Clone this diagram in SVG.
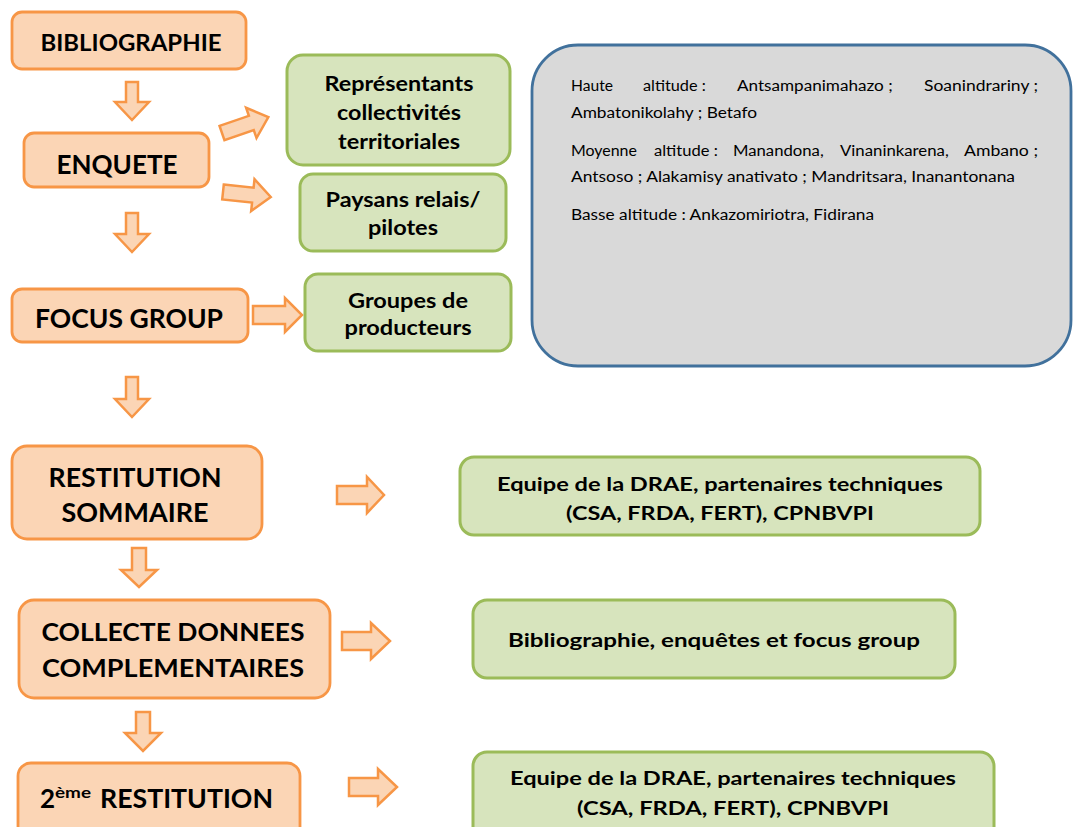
<svg xmlns="http://www.w3.org/2000/svg" width="1073" height="827" viewBox="0 0 1073 827">
<style>
.ob{fill:#FBD5B5;stroke:#F79646;stroke-width:2.8}
.gb{fill:#D7E4BD;stroke:#9BBB59;stroke-width:3}
.zb{fill:#D9D9D9;stroke:#41719C;stroke-width:2.8}
.arr{fill:#FBD5B5;stroke:#F79646;stroke-width:2.5;stroke-linejoin:miter}
.t{font-family:Lato,"Liberation Sans",sans-serif;font-weight:700;fill:#000;text-anchor:middle}
.r{font-family:Lato,"Liberation Sans",sans-serif;font-weight:400;fill:#000;font-size:15.5px}
</style>
<rect width="1073" height="827" fill="#FFFFFF"/>

<g id="connectors">
<polygon class="arr" points="126,82 138,82 138,102 149,102 132,120 115,102 126,102"/>
<polygon class="arr" transform="translate(222,133) rotate(-19)" points="0,-7.5 31,-7.5 31,-16 49,0 31,16 31,7.5 0,7.5"/>
<polygon class="arr" transform="translate(223,192) rotate(6)" points="0,-7.5 30,-7.5 30,-16 48,0 30,16 30,7.5 0,7.5"/>
<polygon class="arr" points="126,213 138,213 138,234 149,234 132,252 115,234 126,234"/>
<polygon class="arr" points="253,306 285,306 285,298 302,315 285,332 285,324 253,324"/>
<polygon class="arr" points="126,377 138,377 138,399 149,399 132,417 115,399 126,399"/>
<polygon class="arr" points="337,486 367,486 367,477 384,495 367,513 367,504 337,504"/>
<polygon class="arr" points="132,548 146,548 146,570 157,570 139,587 121,570 132,570"/>
<polygon class="arr" points="342,632 371,632 371,623 390,641 371,659 371,650 342,650"/>
<polygon class="arr" points="136,712 150,712 150,733 161,733 143,751 125,733 136,733"/>
<polygon class="arr" points="349,778 378,778 378,769 397,787 378,805 378,796 349,796"/>
</g>

<g id="n-bibliographie">
<rect class="ob" x="12" y="12" width="234" height="57" rx="10"/>
<text class="t" x="131" y="51" font-size="23" textLength="181" lengthAdjust="spacingAndGlyphs">BIBLIOGRAPHIE</text>
</g>

<g id="n-enquete">
<rect class="ob" x="24" y="133" width="185" height="54" rx="10"/>
<text class="t" x="117" y="174" font-size="27" textLength="121" lengthAdjust="spacingAndGlyphs">ENQUETE</text>
</g>

<g id="n-focus">
<rect class="ob" x="12" y="289" width="236" height="53" rx="10"/>
<text class="t" x="129" y="328" font-size="27" textLength="188" lengthAdjust="spacingAndGlyphs">FOCUS GROUP</text>
</g>

<g id="n-restitution">
<rect class="ob" x="12" y="446" width="250" height="93" rx="15"/>
<text class="t" x="135" y="487" font-size="27" textLength="173" lengthAdjust="spacingAndGlyphs">RESTITUTION</text>
<text class="t" x="135" y="522" font-size="27" textLength="147" lengthAdjust="spacingAndGlyphs">SOMMAIRE</text>
</g>

<g id="n-collecte">
<rect class="ob" x="19" y="600" width="311" height="98" rx="15"/>
<text class="t" x="173" y="641" font-size="25" textLength="263" lengthAdjust="spacingAndGlyphs">COLLECTE DONNEES</text>
<text class="t" x="173" y="677" font-size="25" textLength="262" lengthAdjust="spacingAndGlyphs">COMPLEMENTAIRES</text>
</g>

<g id="n-restitution2">
<rect class="ob" x="18" y="763" width="282" height="90" rx="13"/>
<text class="t" x="40" y="808" font-size="26" style="text-anchor:start">2<tspan x="55" font-size="16" dy="-10" textLength="36" lengthAdjust="spacingAndGlyphs">ème</tspan> <tspan x="100" dy="10" textLength="173" lengthAdjust="spacingAndGlyphs">RESTITUTION</tspan></text>
</g>

<g id="n-representants">
<rect class="gb" x="287" y="55" width="223" height="110" rx="16"/>
<text class="t" x="399" y="91" font-size="20" textLength="149" lengthAdjust="spacingAndGlyphs">Représentants</text>
<text class="t" x="399" y="120" font-size="20" textLength="124" lengthAdjust="spacingAndGlyphs">collectivités</text>
<text class="t" x="399" y="149" font-size="20" textLength="122" lengthAdjust="spacingAndGlyphs">territoriales</text>
</g>

<g id="n-paysans">
<rect class="gb" x="300" y="174" width="206" height="77" rx="13"/>
<text class="t" x="403" y="207" font-size="20" textLength="155" lengthAdjust="spacingAndGlyphs">Paysans relais/</text>
<text class="t" x="403" y="235" font-size="20" textLength="70" lengthAdjust="spacingAndGlyphs">pilotes</text>
</g>

<g id="n-groupes">
<rect class="gb" x="305" y="274" width="206" height="77" rx="13"/>
<text class="t" x="408" y="308" font-size="20" textLength="120" lengthAdjust="spacingAndGlyphs">Groupes de</text>
<text class="t" x="408" y="335" font-size="20" textLength="127" lengthAdjust="spacingAndGlyphs">producteurs</text>
</g>

<g id="n-zones">
<rect class="zb" x="532" y="45" width="539" height="321" rx="46"/>
<text class="r" y="91"><tspan x="571" textLength="46" lengthAdjust="spacingAndGlyphs">Haute </tspan><tspan x="643" textLength="67" lengthAdjust="spacingAndGlyphs">altitude : </tspan><tspan x="737" textLength="160" lengthAdjust="spacingAndGlyphs">Antsampanimahazo ; </tspan><tspan x="924" textLength="114" lengthAdjust="spacingAndGlyphs">Soanindrariny ;</tspan></text>
<text class="r" x="571" y="118" textLength="186" lengthAdjust="spacingAndGlyphs">Ambatonikolahy ; Betafo</text>
<text class="r" y="156"><tspan x="571" textLength="70" lengthAdjust="spacingAndGlyphs">Moyenne </tspan><tspan x="654" textLength="68" lengthAdjust="spacingAndGlyphs">altitude : </tspan><tspan x="733" textLength="95" lengthAdjust="spacingAndGlyphs">Manandona, </tspan><tspan x="840" textLength="113" lengthAdjust="spacingAndGlyphs">Vinaninkarena, </tspan><tspan x="964" textLength="74" lengthAdjust="spacingAndGlyphs">Ambano ;</tspan></text>
<text class="r" x="571" y="182" textLength="444" lengthAdjust="spacingAndGlyphs">Antsoso ; Alakamisy anativato ; Mandritsara, Inanantonana</text>
<text class="r" x="571" y="220" textLength="303" lengthAdjust="spacingAndGlyphs">Basse altitude : Ankazomiriotra, Fidirana</text>
</g>

<g id="n-equipe1">
<rect class="gb" x="460" y="457" width="520" height="78" rx="14"/>
<text class="t" x="720" y="491" font-size="19" textLength="446" lengthAdjust="spacingAndGlyphs">Equipe de la DRAE, partenaires techniques</text>
<text class="t" x="720" y="520" font-size="19" textLength="308" lengthAdjust="spacingAndGlyphs">(CSA, FRDA, FERT), CPNBVPI</text>
</g>

<g id="n-biblio2">
<rect class="gb" x="473" y="600" width="482" height="78" rx="14"/>
<text class="t" x="714" y="647" font-size="19" textLength="412" lengthAdjust="spacingAndGlyphs">Bibliographie, enquêtes et focus group</text>
</g>

<g id="n-equipe2">
<rect class="gb" x="473" y="752" width="521" height="90" rx="14"/>
<text class="t" x="733" y="785" font-size="19" textLength="446" lengthAdjust="spacingAndGlyphs">Equipe de la DRAE, partenaires techniques</text>
<text class="t" x="733" y="815" font-size="19" textLength="312" lengthAdjust="spacingAndGlyphs">(CSA, FRDA, FERT), CPNBVPI</text>
</g>
</svg>
